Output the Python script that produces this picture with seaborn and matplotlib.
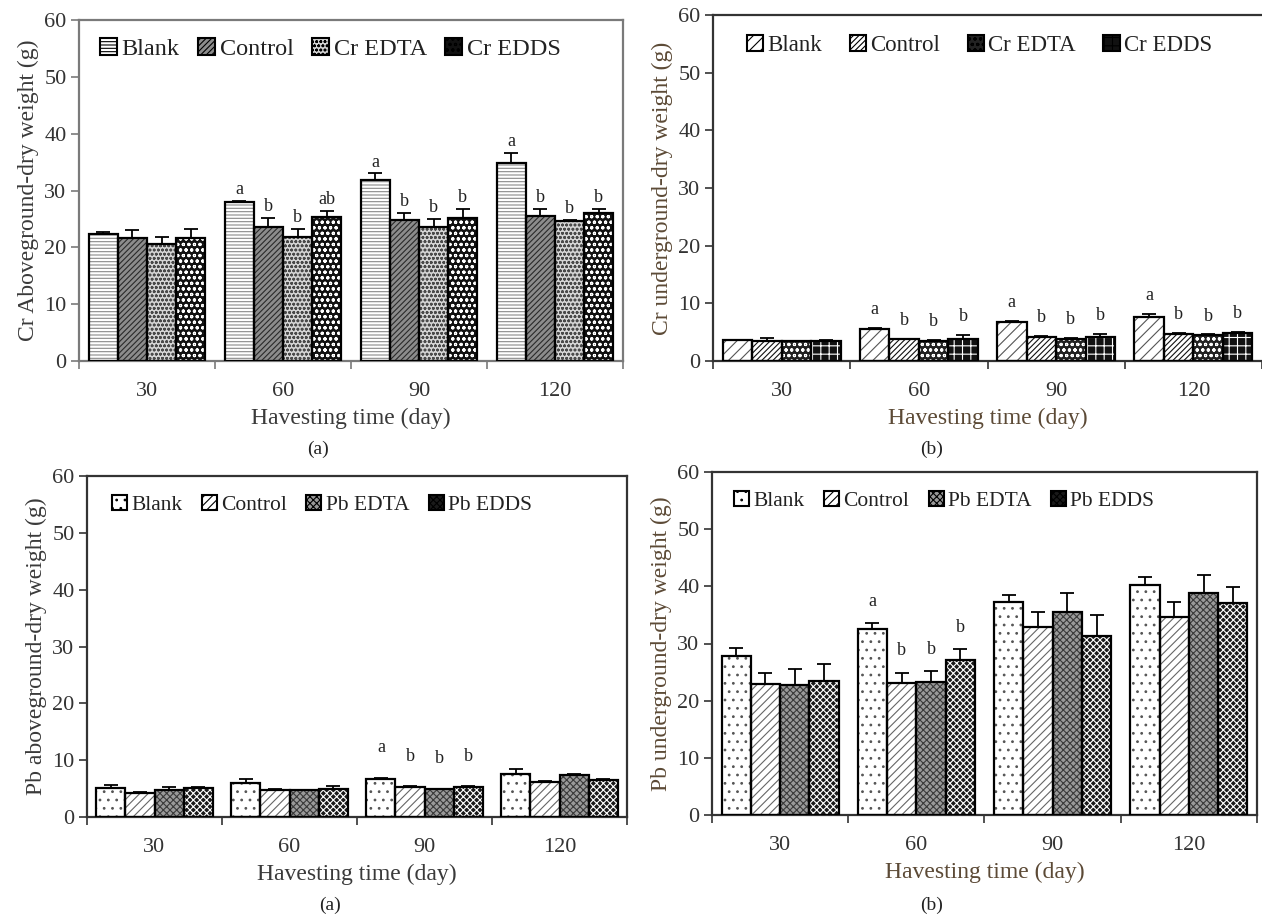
import matplotlib
matplotlib.use("Agg")
import matplotlib.pyplot as plt
from matplotlib.patches import Rectangle, Patch
import numpy as np
import pandas as pd
import seaborn as sns

# data (g)
days = ["30", "60", "90", "120"]
cr_groups = ["Blank", "Control", "Cr EDTA", "Cr EDDS"]
pb_groups = ["Blank", "Control", "Pb EDTA", "Pb EDDS"]

# Cr aboveground
cr_above_mean = {
    "Blank":   [22.4, 27.9, 31.9, 34.9],
    "Control": [21.6, 23.5, 24.8, 25.5],
    "Cr EDTA": [20.5, 21.8, 23.6, 24.6],
    "Cr EDDS": [21.6, 25.4, 25.2, 26.0],
}
cr_above_err = {
    "Blank":   [0.3, 0.3, 1.1, 1.7],
    "Control": [1.4, 1.7, 1.2, 1.3],
    "Cr EDTA": [1.3, 1.4, 1.4, 0.2],
    "Cr EDDS": [1.6, 1.0, 1.5, 0.8],
}
cr_above_letters = {
    "Blank":   ["", "a", "a", "a"],
    "Control": ["", "b", "b", "b"],
    "Cr EDTA": ["", "b", "b", "b"],
    "Cr EDDS": ["", "ab", "b", "b"],
}

# Cr underground
cr_under_mean = {
    "Blank":   [3.6, 5.5, 6.7, 7.6],
    "Control": [3.5, 3.8, 4.2, 4.7],
    "Cr EDTA": [3.4, 3.4, 3.8, 4.5],
    "Cr EDDS": [3.5, 3.9, 4.1, 4.9],
}
cr_under_err = {
    "Blank":   [0.1, 0.2, 0.2, 0.6],
    "Control": [0.5, 0.1, 0.1, 0.1],
    "Cr EDTA": [0.1, 0.3, 0.2, 0.1],
    "Cr EDDS": [0.2, 0.6, 0.6, 0.1],
}
cr_under_letters = {
    "Blank":   ["", "a", "a", "a"],
    "Control": ["", "b", "b", "b"],
    "Cr EDTA": ["", "b", "b", "b"],
    "Cr EDDS": ["", "b", "b", "b"],
}

# Pb aboveground
pb_above_mean = {
    "Blank":   [5.1, 5.9, 6.7, 7.5],
    "Control": [4.3, 4.8, 5.3, 6.2],
    "Pb EDTA": [4.7, 4.7, 4.9, 7.4],
    "Pb EDDS": [5.1, 4.9, 5.3, 6.5],
}
pb_above_err = {
    "Blank":   [0.6, 0.8, 0.2, 1.0],
    "Control": [0.1, 0.1, 0.1, 0.1],
    "Pb EDTA": [0.5, 0.1, 0.1, 0.1],
    "Pb EDDS": [0.1, 0.6, 0.1, 0.1],
}
pb_above_letters = {
    "Blank":   ["", "", "a", ""],
    "Control": ["", "", "b", ""],
    "Pb EDTA": ["", "", "b", ""],
    "Pb EDDS": ["", "", "b", ""],
}

# Pb underground
pb_under_mean = {
    "Blank":   [27.8, 32.6, 37.2, 40.2],
    "Control": [23.0, 23.1, 32.8, 34.7],
    "Pb EDTA": [22.7, 23.2, 35.5, 38.8],
    "Pb EDDS": [23.5, 27.2, 31.3, 37.0],
}
pb_under_err = {
    "Blank":   [1.5, 0.9, 1.2, 1.4],
    "Control": [1.9, 1.8, 2.7, 2.6],
    "Pb EDTA": [2.8, 2.0, 3.3, 3.1],
    "Pb EDDS": [3.0, 1.8, 3.6, 2.8],
}
pb_under_letters = {
    "Blank":   ["", "a", "", ""],
    "Control": ["", "b", "", ""],
    "Pb EDTA": ["", "b", "", ""],
    "Pb EDDS": ["", "b", "", ""],
}

# (facecolor, hatch, hatch colour) for each series
style_cr_above = [("white", "-----", "#8a8a8a"), ("#8c8c8c", "//////", "#2a2a2a"),
                  ("#d5d5d5", "oooo", "#4a4a4a"), ("#111111", "ooo", "white")]
style_cr_under = [("white", "///", "#555555"), ("white", "//////", "#111111"),
                  ("#222222", "ooo", "white"), ("#111111", "++", "white")]
style_pb = [("white", "..", "#555555"), ("white", "////", "#666666"),
            ("#9a9a9a", "xxxxx", "#3a3a3a"), ("#1a1a1a", "xxxxx", "white")]

sns.set_theme(style="white")
plt.rcParams["font.family"] = ["Liberation Serif", "DejaVu Serif"]
plt.rcParams["hatch.linewidth"] = 0.8

fig = plt.figure(figsize=(12.62, 9.14), dpi=100)


def draw_panel(rect, groups, means, errs, letters, styles, ylabel, letter_off,
               legend_anchor, legend_size, colspacing, text_color, spine_color,
               right_spine=True):
    ax = fig.add_axes(rect)
    rows = []
    for g in groups:
        for d, v in zip(days, means[g]):
            rows.append({"day": d, "value": v, "group": g})
    df = pd.DataFrame(rows)
    sns.barplot(data=df, x="day", y="value", hue="group", order=days,
                hue_order=groups, palette={g: "white" for g in groups},
                errorbar=None, width=0.86, gap=0, legend=False, ax=ax)

    for i, g in enumerate(groups):
        fc, hatch, hc = styles[i]
        bars = ax.containers[i]
        xs, ys = [], []
        for bar in bars:
            bar.set_facecolor(fc)
            bar.set_hatch(hatch)
            bar.set_edgecolor(hc)
            bar.set_linewidth(0)
            ax.add_patch(Rectangle((bar.get_x(), 0), bar.get_width(), bar.get_height(),
                                   fill=False, ec="black", lw=1.6, zorder=3))
            xs.append(bar.get_x() + bar.get_width() / 2)
            ys.append(bar.get_height())
        e = np.array(errs[g])
        ax.errorbar(xs, ys, yerr=[np.zeros_like(e), e], fmt="none", ecolor="black",
                    elinewidth=1.3, capsize=5, capthick=1.3, zorder=4)
        for x, y, er, lab in zip(xs, ys, e, letters[g]):
            if lab:
                ax.text(x, y + er + letter_off, lab, ha="center", va="center",
                        fontsize=13, color="#222222")

    ax.set_xlim(-0.5, 3.5)
    ax.set_ylim(0, 60)
    ax.set_yticks(range(0, 61, 10))
    ax.set_xticks(range(4))
    ax.set_xticklabels(days)
    ax.set_xticks([-0.5, 0.5, 1.5, 2.5, 3.5], minor=True)
    ax.tick_params(axis="x", which="major", length=0, pad=15, labelsize=16, labelcolor="#333333")
    ax.tick_params(axis="x", which="minor", length=6, width=1.2, direction="out",
                   color=spine_color, bottom=True)
    ax.tick_params(axis="y", length=6, width=1.2, direction="out", color=spine_color,
                   left=True, labelsize=16, labelcolor="#333333", pad=3)
    ax.set_xlabel("Havesting time (day)", fontsize=17, color=text_color, labelpad=5)
    ax.set_ylabel(ylabel, fontsize=17, color=text_color, labelpad=4)
    for side, sp in ax.spines.items():
        sp.set_color(spine_color)
        sp.set_linewidth(1.6)
    ax.spines["right"].set_visible(right_spine)

    handles = [Patch(facecolor=s[0], hatch=s[1], edgecolor="black", lw=1.5) for s in styles]
    ax.legend(handles, groups, loc="upper left", bbox_to_anchor=legend_anchor, ncol=4,
              frameon=False, fontsize=legend_size, handlelength=0.7, handleheight=0.7,
              handletextpad=0.2, columnspacing=colspacing, borderaxespad=0,
              labelcolor="#222222")
    return ax


W, H = 1262, 914


def rect(l, t, r, b):
    return [l / W, 1 - b / H, (r - l) / W, (b - t) / H]


draw_panel(rect(79, 20, 623, 361), cr_groups, cr_above_mean, cr_above_err, cr_above_letters,
           style_cr_above, "Cr Aboveground-dry weight (g)", 2.0, (0.02, 0.975), 17.5, 0.75,
           "#3a3a3a", "#7a7a7a")
draw_panel(rect(713, 15, 1262, 361), cr_groups, cr_under_mean, cr_under_err, cr_under_letters,
           style_cr_under, "Cr underground-dry weight (g)", 3.2, (0.045, 0.97), 16.5, 1.2,
           "#5c4a36", "#333333", right_spine=False)
draw_panel(rect(87, 476, 627, 817), pb_groups, pb_above_mean, pb_above_err, pb_above_letters,
           style_pb, "Pb aboveground-dry weight (g)", 5.3, (0.03, 0.97), 15.5, 0.9,
           "#3a3a3a", "#333333")
draw_panel(rect(712, 472, 1257, 815), pb_groups, pb_under_mean, pb_under_err, pb_under_letters,
           style_pb, "Pb underground-dry weight (g)", 3.8, (0.025, 0.97), 15.5, 0.9,
           "#5c4a36", "#333333")

fig.text(318 / W, 1 - 449 / H, "(a)", ha="center", va="center", fontsize=14, color="#222222")
fig.text(932 / W, 1 - 449 / H, "(b)", ha="center", va="center", fontsize=14, color="#222222")
fig.text(330 / W, 1 - 905 / H, "(a)", ha="center", va="center", fontsize=14, color="#222222")
fig.text(932 / W, 1 - 905 / H, "(b)", ha="center", va="center", fontsize=14, color="#222222")

fig.savefig("out.png", dpi=100)
